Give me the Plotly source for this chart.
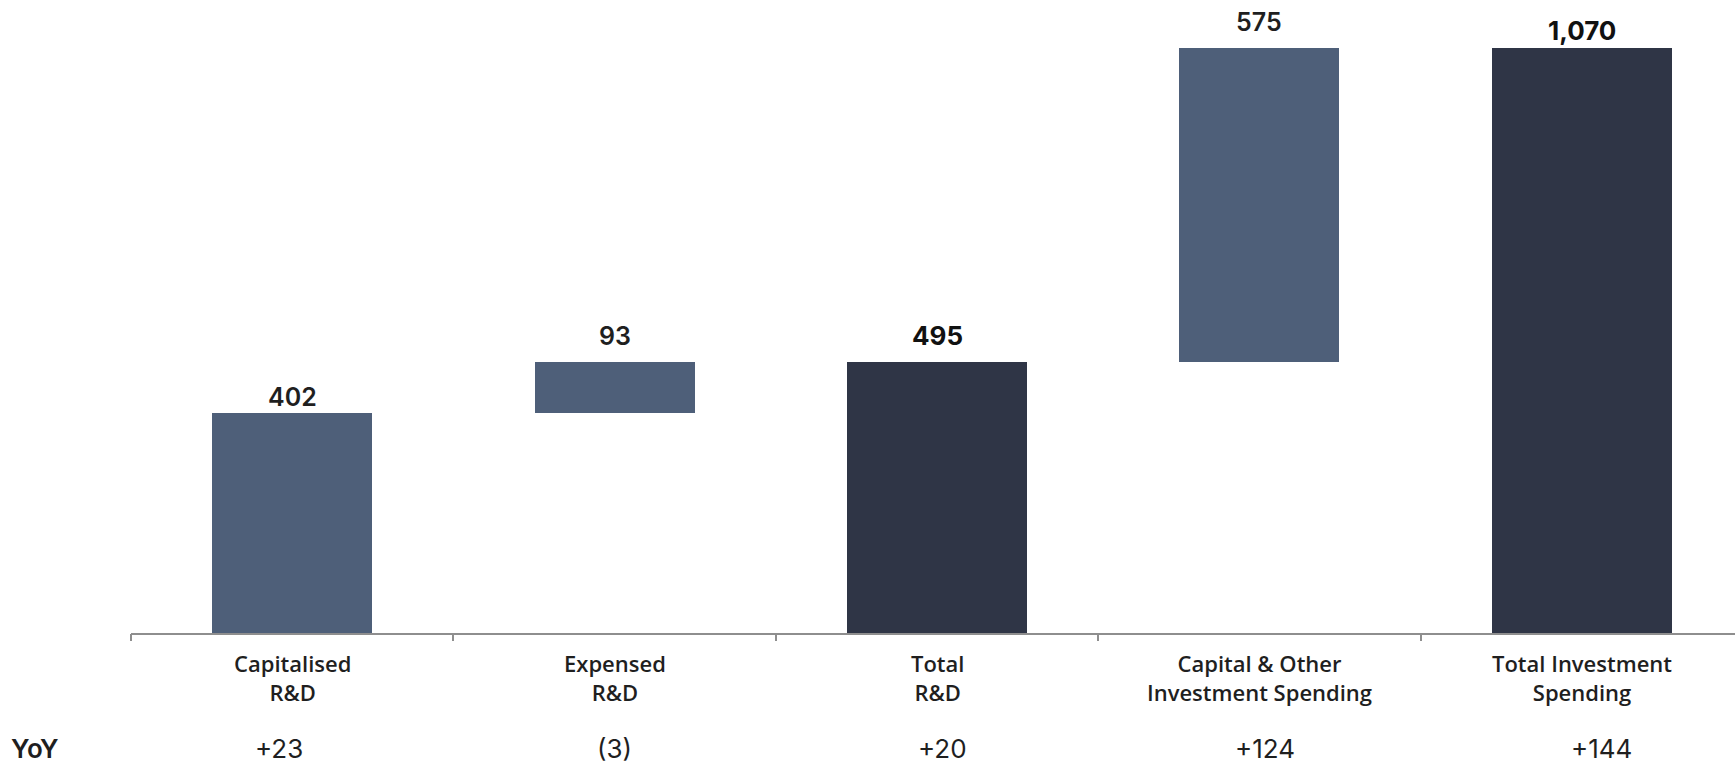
import plotly.graph_objects as go

# ---- data ----
categories = ["Capitalised<br>R&D", "Expensed<br>R&D", "Total<br>R&D",
              "Capital & Other<br>Investment Spending", "Total Investment<br>Spending"]
values = [402, 93, 495, 575, 1070]
kinds = ["delta", "delta", "total", "delta", "total"]
yoy_labels = ["+23", "(3)", "+20", "+124", "+144"]
yoy_title = "YoY"

# ---- styling ----
COL_DELTA = "#4e5f79"
COL_TOTAL = "#2f3546"
AXIS_GRAY = "#8e8e8e"
TEXT = "#1f1f1f"
W_DELTA, W_TOTAL = 0.496, 0.558
label_gap = [-1, 9, 9, 9, 0]
yoy_xshift = [-13, 0, 5, 6, 20]

# waterfall bases
bases, running = [], 0
for v, k in zip(values, kinds):
    if k == "total":
        bases.append(0)
        running = v
    else:
        bases.append(running)
        running += v
tops = [b + v for b, v in zip(bases, values)]

x_idx = list(range(len(categories)))
fig = go.Figure()
fig.add_trace(go.Bar(
    x=x_idx, y=values, base=bases,
    width=[W_TOTAL if k == "total" else W_DELTA for k in kinds],
    marker=dict(color=[COL_TOTAL if k == "total" else COL_DELTA for k in kinds],
                line=dict(width=0)),
    hoverinfo="skip", showlegend=False,
))

YOY_SHIFT = -132
ann = []
for i, (t, v, k) in enumerate(zip(tops, values, kinds)):
    ann.append(dict(x=i, y=t, xref="x", yref="y", text=f"{v:,}", showarrow=False,
                    yanchor="bottom", yshift=label_gap[i],
                    font=dict(family="Inter", size=26 if k == "total" else 25,
                              color="#111111" if k == "total" else TEXT,
                              weight=700 if k == "total" else 600)))
    ann.append(dict(x=i, y=0, xref="x", yref="y", text=categories[i], showarrow=False,
                    yanchor="middle", yshift=-44,
                    font=dict(family="Open Sans", size=22, color=TEXT, weight=600)))
    ann.append(dict(x=i, y=0, xref="x", yref="y", text=yoy_labels[i], showarrow=False,
                    yanchor="bottom", yshift=YOY_SHIFT, xshift=yoy_xshift[i], borderpad=0,
                    font=dict(family="Inter", size=26, color=TEXT, weight=400)))

L_MARGIN = 131
plot_w = 1735 - L_MARGIN
ann.append(dict(x=-(L_MARGIN - 10) / plot_w, y=0, xref="paper", yref="y", text=yoy_title,
                showarrow=False, xanchor="left", yanchor="bottom", yshift=YOY_SHIFT, borderpad=0,
                font=dict(family="Inter", size=26, color=TEXT, weight=600)))

cat_px = 322.4
fig.update_layout(
    width=1735, height=768,
    margin=dict(l=L_MARGIN, r=0, t=0, b=134.5),
    paper_bgcolor="white", plot_bgcolor="white",
    bargap=0,
    xaxis=dict(range=[-0.5, -0.5 + plot_w / cat_px], tickvals=[], showgrid=False,
               zeroline=False, showline=True, linecolor=AXIS_GRAY, linewidth=2,
               fixedrange=True),
    yaxis=dict(range=[0, 633.5 / 0.547], visible=False, fixedrange=True),
    annotations=ann,
)

# boundary ticks on an overlaid axis sharing the x scale
fig.update_layout(xaxis2=dict(overlaying="x", matches="x", side="bottom",
                              tickmode="array", tickvals=[i - 0.5 for i in range(len(categories) + 1)],
                              ticktext=[""] * (len(categories) + 1),
                              ticks="outside", ticklen=7, tickwidth=1.5, tickcolor=AXIS_GRAY,
                              showline=False, showgrid=False, zeroline=False))
fig.add_trace(go.Scatter(x=[None], y=[None], xaxis="x2", showlegend=False, hoverinfo="skip"))

fig.write_html("out.html")
